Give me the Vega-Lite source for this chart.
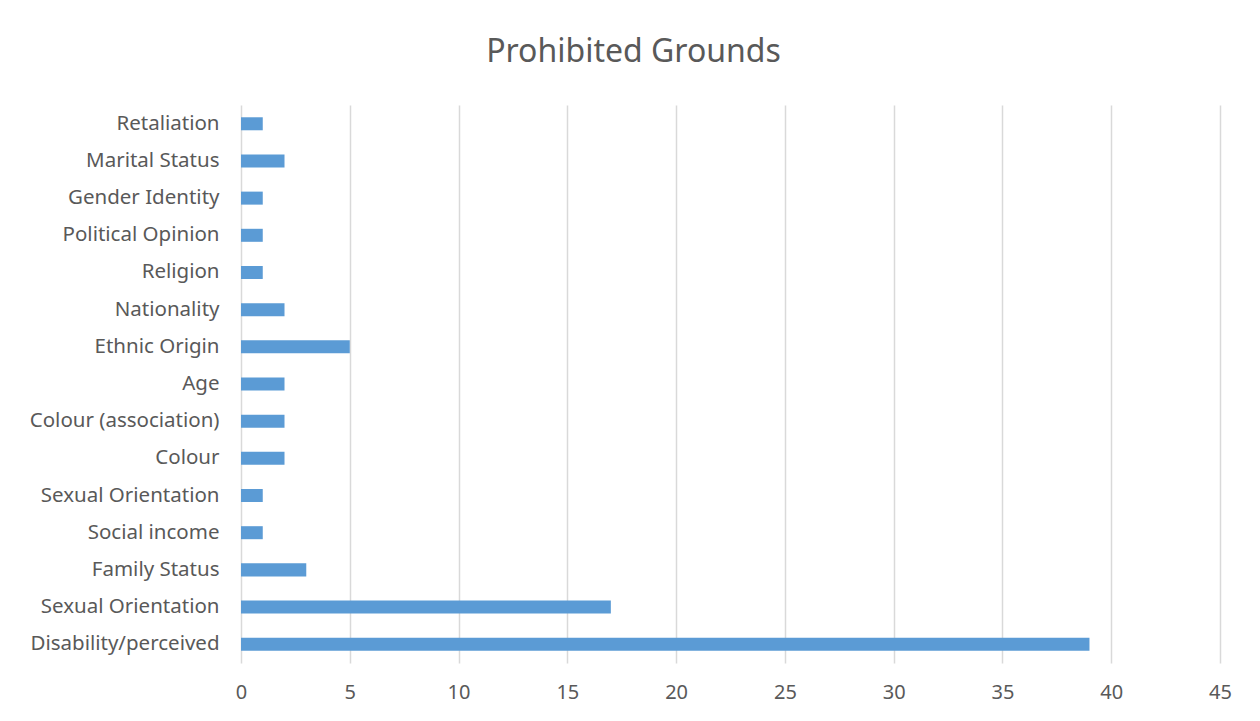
{
  "$schema": "https://vega.github.io/schema/vega-lite/v6.json",
  "width": 979,
  "height": 558,
  "autosize": {"type": "none"},
  "padding": {"left": 241, "top": 105, "right": 40, "bottom": 58},
  "background": "white",
  "title": {
    "text": "Prohibited Grounds",
    "font": "Noto Sans",
    "fontSize": 32,
    "fontWeight": "normal",
    "color": "#595959",
    "anchor": "middle",
    "dx": -97,
    "offset": 36
  },
  "data": {
    "values": [
      {"ground": "Retaliation", "count": 1},
      {"ground": "Marital Status", "count": 2},
      {"ground": "Gender Identity", "count": 1},
      {"ground": "Political Opinion", "count": 1},
      {"ground": "Religion", "count": 1},
      {"ground": "Nationality", "count": 2},
      {"ground": "Ethnic Origin", "count": 5},
      {"ground": "Age", "count": 2},
      {"ground": "Colour (association)", "count": 2},
      {"ground": "Colour", "count": 2},
      {"ground": "Sexual Orientation ", "count": 1},
      {"ground": "Social income", "count": 1},
      {"ground": "Family Status", "count": 3},
      {"ground": "Sexual Orientation", "count": 17},
      {"ground": "Disability/perceived", "count": 39}
    ]
  },
  "mark": {"type": "bar", "color": "#5b9bd5"},
  "encoding": {
    "y": {
      "field": "ground",
      "type": "nominal",
      "sort": null,
      "scale": {"paddingInner": 0.65, "paddingOuter": 0.33},
      "axis": {
        "title": null,
        "domain": false,
        "ticks": false,
        "labelFont": "Noto Sans",
        "labelFontSize": 20.5,
        "labelColor": "#595959",
        "labelPadding": 22,
        "labelLimit": 400
      }
    },
    "x": {
      "field": "count",
      "type": "quantitative",
      "scale": {"domain": [0, 45], "nice": false},
      "axis": {
        "title": null,
        "values": [0, 5, 10, 15, 20, 25, 30, 35, 40, 45],
        "domain": false,
        "ticks": false,
        "grid": true,
        "gridColor": "#d9d9d9",
        "gridWidth": 1.5,
        "labelFont": "Noto Sans",
        "labelFontSize": 20,
        "labelColor": "#595959",
        "labelPadding": 19,
        "labelFlush": false
      }
    }
  },
  "config": {"view": {"stroke": null}}
}
